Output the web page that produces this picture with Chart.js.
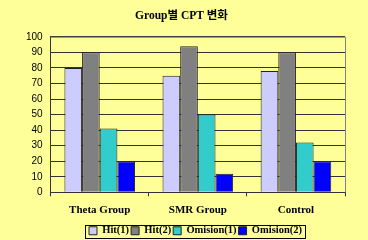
<!DOCTYPE html>
<html><head><meta charset="utf-8">
<script src="https://cdn.jsdelivr.net/npm/chart.js@4/dist/chart.umd.min.js"></script>
<style>html,body{margin:0;padding:0;background:#FFFF99;}#w{width:368px;height:240px;}</style>
</head><body><div id="w"><canvas id="c" width="368" height="240"></canvas></div>
<script>
const categories = ["Theta Group", "SMR Group", "Control"];
const hit1 = [80, 75, 78];
const hit2 = [90, 94, 90];
const omision1 = [41, 50, 32];
const omision2 = [20, 12, 20];
const yTicks = [0,10,20,30,40,50,60,70,80,90,100];
const titleText = "Group별 CPT 변화";

const serif = "'Liberation Serif','Noto Sans CJK KR',serif";
const LEGEND_CENTER_X = 195;
const frame = {
  id: 'frame',
  beforeDraw(chart) {
    const l = chart.legend, hb = l.legendHitBoxes;
    if (!hb || !hb.length) return;
    const x0 = Math.min(...hb.map(h => h.left));
    const x1 = Math.max(...hb.map(h => h.left + h.width));
    const dx = Math.round(LEGEND_CENTER_X - (x0 + x1) / 2);
    if (dx !== 0) {
      l.left += dx; l.right += dx;
      hb.forEach(h => { h.left += dx; });
    }
  },
  afterDraw(chart) {
    const ctx = chart.ctx, a = chart.chartArea, l = chart.legend;
    ctx.save();
    ctx.strokeStyle = '#808080'; ctx.lineWidth = 1;
    ctx.beginPath();
    ctx.moveTo(a.left, a.top + 0.5); ctx.lineTo(a.right + 0.5, a.top + 0.5); ctx.lineTo(a.right + 0.5, a.bottom);
    ctx.stroke();
    const hb = l.legendHitBoxes;
    if (hb && hb.length) {
      const x0 = Math.min(...hb.map(h => h.left)) - 4;
      const x1 = Math.max(...hb.map(h => h.left + h.width)) + 3;
      const y0 = Math.min(...hb.map(h => h.top)) - 1;
      const y1 = Math.max(...hb.map(h => h.top + h.height)) + 1;
      ctx.strokeStyle = '#000';
      ctx.strokeRect(Math.round(x0) + 0.5, Math.round(y0) + 0.5, Math.round(x1 - x0), Math.round(y1 - y0));
    }
    ctx.restore();
  }
};
new Chart(document.getElementById('c'), {
  type: 'bar',
  data: {
    labels: categories,
    datasets: [
      {label: 'Hit(1)', data: hit1, backgroundColor: '#CCCCFF', borderColor: '#222222', borderWidth: 1},
      {label: 'Hit(2)', data: hit2, backgroundColor: '#808080', borderColor: '#222222', borderWidth: 1},
      {label: 'Omision(1)', data: omision1, backgroundColor: '#33CCCC', borderColor: '#222222', borderWidth: 1},
      {label: 'Omision(2)', data: omision2, backgroundColor: '#0000FF', borderColor: '#222222', borderWidth: 1}
    ]
  },
  options: {
    responsive: false, animation: false,
    layout: {padding: {left: 18, right: 23, top: 4, bottom: -6}},
    datasets: {bar: {categoryPercentage: 0.72, barPercentage: 1}},
    scales: {
      x: {
        grid: {drawOnChartArea: false, drawTicks: true, tickLength: 4, color: '#333', offset: true},
        border: {color: '#333'},
        ticks: {color: '#000', font: {family: serif, size: 11, weight: 'bold'}, padding: 7}
      },
      y: {
        min: 0, max: 100,
        afterBuildTicks: s => { s.ticks = yTicks.map(v => ({value: v})); },
        grid: {color: '#333', drawTicks: false},
        border: {color: '#333'},
        ticks: {color: '#000', autoSkip: false, stepSize: 10, font: {family: "'Liberation Sans',Arial,sans-serif", size: 10}, padding: 8}
      }
    },
    plugins: {
      title: {display: true, text: titleText, color: '#000', font: {family: serif, size: 11.5, weight: 'bold'}, padding: {top: 5, bottom: 14}},
      legend: {
        position: 'bottom',
        labels: {color: '#000', font: {family: serif, size: 10.5, weight: 'bold'}, boxWidth: 8, boxHeight: 8, padding: 2},
      },
      tooltip: {enabled: false}
    }
  },
  plugins: [frame]
});
</script></body></html>
